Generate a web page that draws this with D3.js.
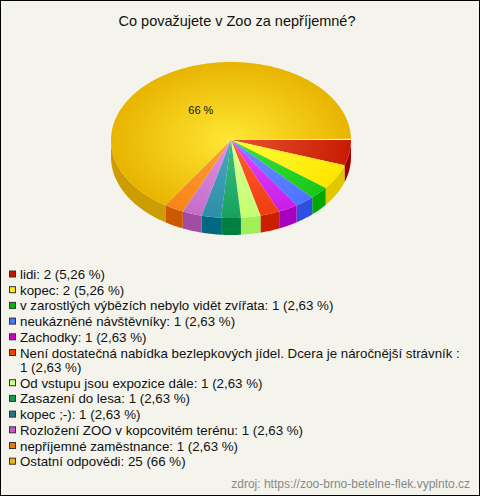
<!DOCTYPE html>
<html><head><meta charset="utf-8">
<script src="https://cdn.jsdelivr.net/npm/d3@7"></script>
<style>html,body{margin:0;padding:0;background:#f4f4ec}svg{display:block}</style>
</head><body>
<svg id="c" width="480" height="496"></svg>
<script>
const title = "Co považujete v Zoo za nepříjemné?";
const categories = [
  "lidi", "kopec", "v zarostlých výbězích nebylo vidět zvířata", "neukázněné návštěvníky",
  "Zachodky", "Není dostatečná nabídka bezlepkových jídel. Dcera je náročnější strávník ",
  "Od vstupu jsou expozice dále", "Zasazení do lesa", "kopec ;-)",
  "Rozložení ZOO v kopcovitém terénu", "nepříjemné zaměstnance", "Ostatní odpovědi"
];
const values = [2, 2, 1, 1, 1, 1, 1, 1, 1, 1, 1, 25];
const pctLabels = ["5,26 %", "5,26 %", "2,63 %", "2,63 %", "2,63 %", "2,63 %", "2,63 %", "2,63 %", "2,63 %", "2,63 %", "2,63 %", "66 %"];
const sliceLabels = ["", "", "", "", "", "", "", "", "", "", "", "66 %"];
const topColors    = ["#c81c02", "#ffe600", "#18c818", "#4c74ff", "#c81ee8", "#f03c10", "#c4ff70", "#18a060", "#2e8ea8", "#c46ec8", "#f88418", "#e8b400"];
const centerColors = ["#ea5230", "#ffff3c", "#40e040", "#6e90ff", "#e448ff", "#ff6030", "#dcff98", "#38c080", "#4aa8c0", "#e090e8", "#ffa030", "#ffe834"];
const sideColors   = ["#a00000", "#e0c800", "#00a800", "#2e50e0", "#a800c0", "#c82000", "#a0ee58", "#008040", "#006880", "#a04ca0", "#cc5800", "#cc9c00"];
const legendColors = ["#c01800", "#ffee00", "#00bb00", "#4477ff", "#cc00cc", "#ee4400", "#ccff88", "#119955", "#227788", "#cc55cc", "#ee7700", "#eeb800"];
const source = "zdroj: https://zoo-brno-betelne-flek.vyplnto.cz";

const W = 480, H = 496;
const svg = d3.select("#c");
const font = "'Liberation Sans', Arial, sans-serif";

svg.append("rect").attr("x", 0.5).attr("y", 0.5).attr("width", W - 1).attr("height", H - 1)
  .attr("fill", "#f4f4ec").attr("stroke", "#000");

svg.append("text").attr("x", 237).attr("y", 26).attr("text-anchor", "middle")
  .attr("font-family", font).attr("font-size", 14.5).attr("fill", "#111").text(title);

// 3D pie
const cx = 231, cy = 140, rx = 120, ry = 78, depth = 17;
const pie = d3.pie().sort(null).value(d => d)
  .startAngle(Math.PI / 2).endAngle(Math.PI / 2 + 2 * Math.PI);
const arcs = pie(values).map((a, i) => ({
  i, t1: a.startAngle - Math.PI / 2,
  t2: a.endAngle - Math.PI / 2 - (i === values.length - 1 ? 0.016 : 0)
}));
const px = (t, r = 1) => cx + rx * r * Math.cos(t);
const py = (t, r = 1) => cy + ry * r * Math.sin(t);

const defs = svg.append("defs");
arcs.forEach(a => {
  const g = defs.append("radialGradient").attr("id", "g" + a.i)
    .attr("gradientUnits", "userSpaceOnUse").attr("cx", 0).attr("cy", 0).attr("r", rx)
    .attr("gradientTransform", `translate(${cx},${cy}) scale(1,${ry / rx})`);
  g.append("stop").attr("offset", "0%").attr("stop-color", centerColors[a.i]);
  g.append("stop").attr("offset", "100%").attr("stop-color", topColors[a.i]);
});

function arcPts(t1, t2, yOff) {
  const n = Math.max(2, Math.ceil((t2 - t1) / 0.01));
  const pts = [];
  for (let k = 0; k <= n; k++) {
    const t = t1 + (t2 - t1) * k / n;
    pts.push([px(t), py(t) + yOff]);
  }
  return pts;
}
const line = d3.line();

const pieG = svg.append("g");
// side walls (front half only)
arcs.forEach(a => {
  const s = Math.max(a.t1, 0), e = Math.min(a.t2, Math.PI);
  if (e <= s) return;
  const top = arcPts(s, e, 0);
  const bot = arcPts(s, e, depth).reverse();
  pieG.append("path").attr("d", line(top.concat(bot)) + "Z")
    .attr("fill", sideColors[a.i]);
});
// top faces
arcs.forEach(a => {
  const pts = [[cx, cy]].concat(arcPts(a.t1, a.t2, 0));
  pieG.append("path").attr("d", line(pts) + "Z").attr("fill", `url(#g${a.i})`);
});
// slice labels
arcs.forEach(a => {
  if (!sliceLabels[a.i]) return;
  const m = (a.t1 + a.t2) / 2;
  pieG.append("text").attr("x", px(m, 0.52)).attr("y", py(m, 0.44) + 4)
    .attr("text-anchor", "middle").attr("font-family", font).attr("font-size", 11)
    .attr("fill", "#111").text(sliceLabels[a.i]);
});

// legend
const legG = svg.append("g");
const pitch = 15.7, wrapPitch = 14.5, maxW = 442, fs = 13.3;
let y = 270.5;
categories.forEach((c, i) => {
  legG.append("rect").attr("x", 9.5).attr("y", y + 0.5).attr("width", 6).attr("height", 6)
    .attr("fill", legendColors[i]).attr("stroke", "#333").attr("stroke-width", 1);
  const full = `${c}: ${values[i]} (${pctLabels[i]})`;
  const words = full.split(" ").filter(w => w.length);
  let lineStr = "";
  let t = legG.append("text").attr("x", 20).attr("y", y + 8.5)
    .attr("font-family", font).attr("font-size", fs).attr("fill", "#111");
  words.forEach(w => {
    const test = lineStr ? lineStr + " " + w : w;
    t.text(test);
    if (t.node().getComputedTextLength() > maxW && lineStr) {
      t.text(lineStr);
      y += wrapPitch;
      t = legG.append("text").attr("x", 20).attr("y", y + 8.5)
        .attr("font-family", font).attr("font-size", fs).attr("fill", "#111").text(w);
      lineStr = w;
    } else {
      lineStr = test;
    }
  });
  y += pitch;
});

svg.append("text").attr("x", 470).attr("y", 488).attr("text-anchor", "end")
  .attr("font-family", font).attr("font-size", 12).attr("fill", "#888").text(source);
</script>
</body></html>
